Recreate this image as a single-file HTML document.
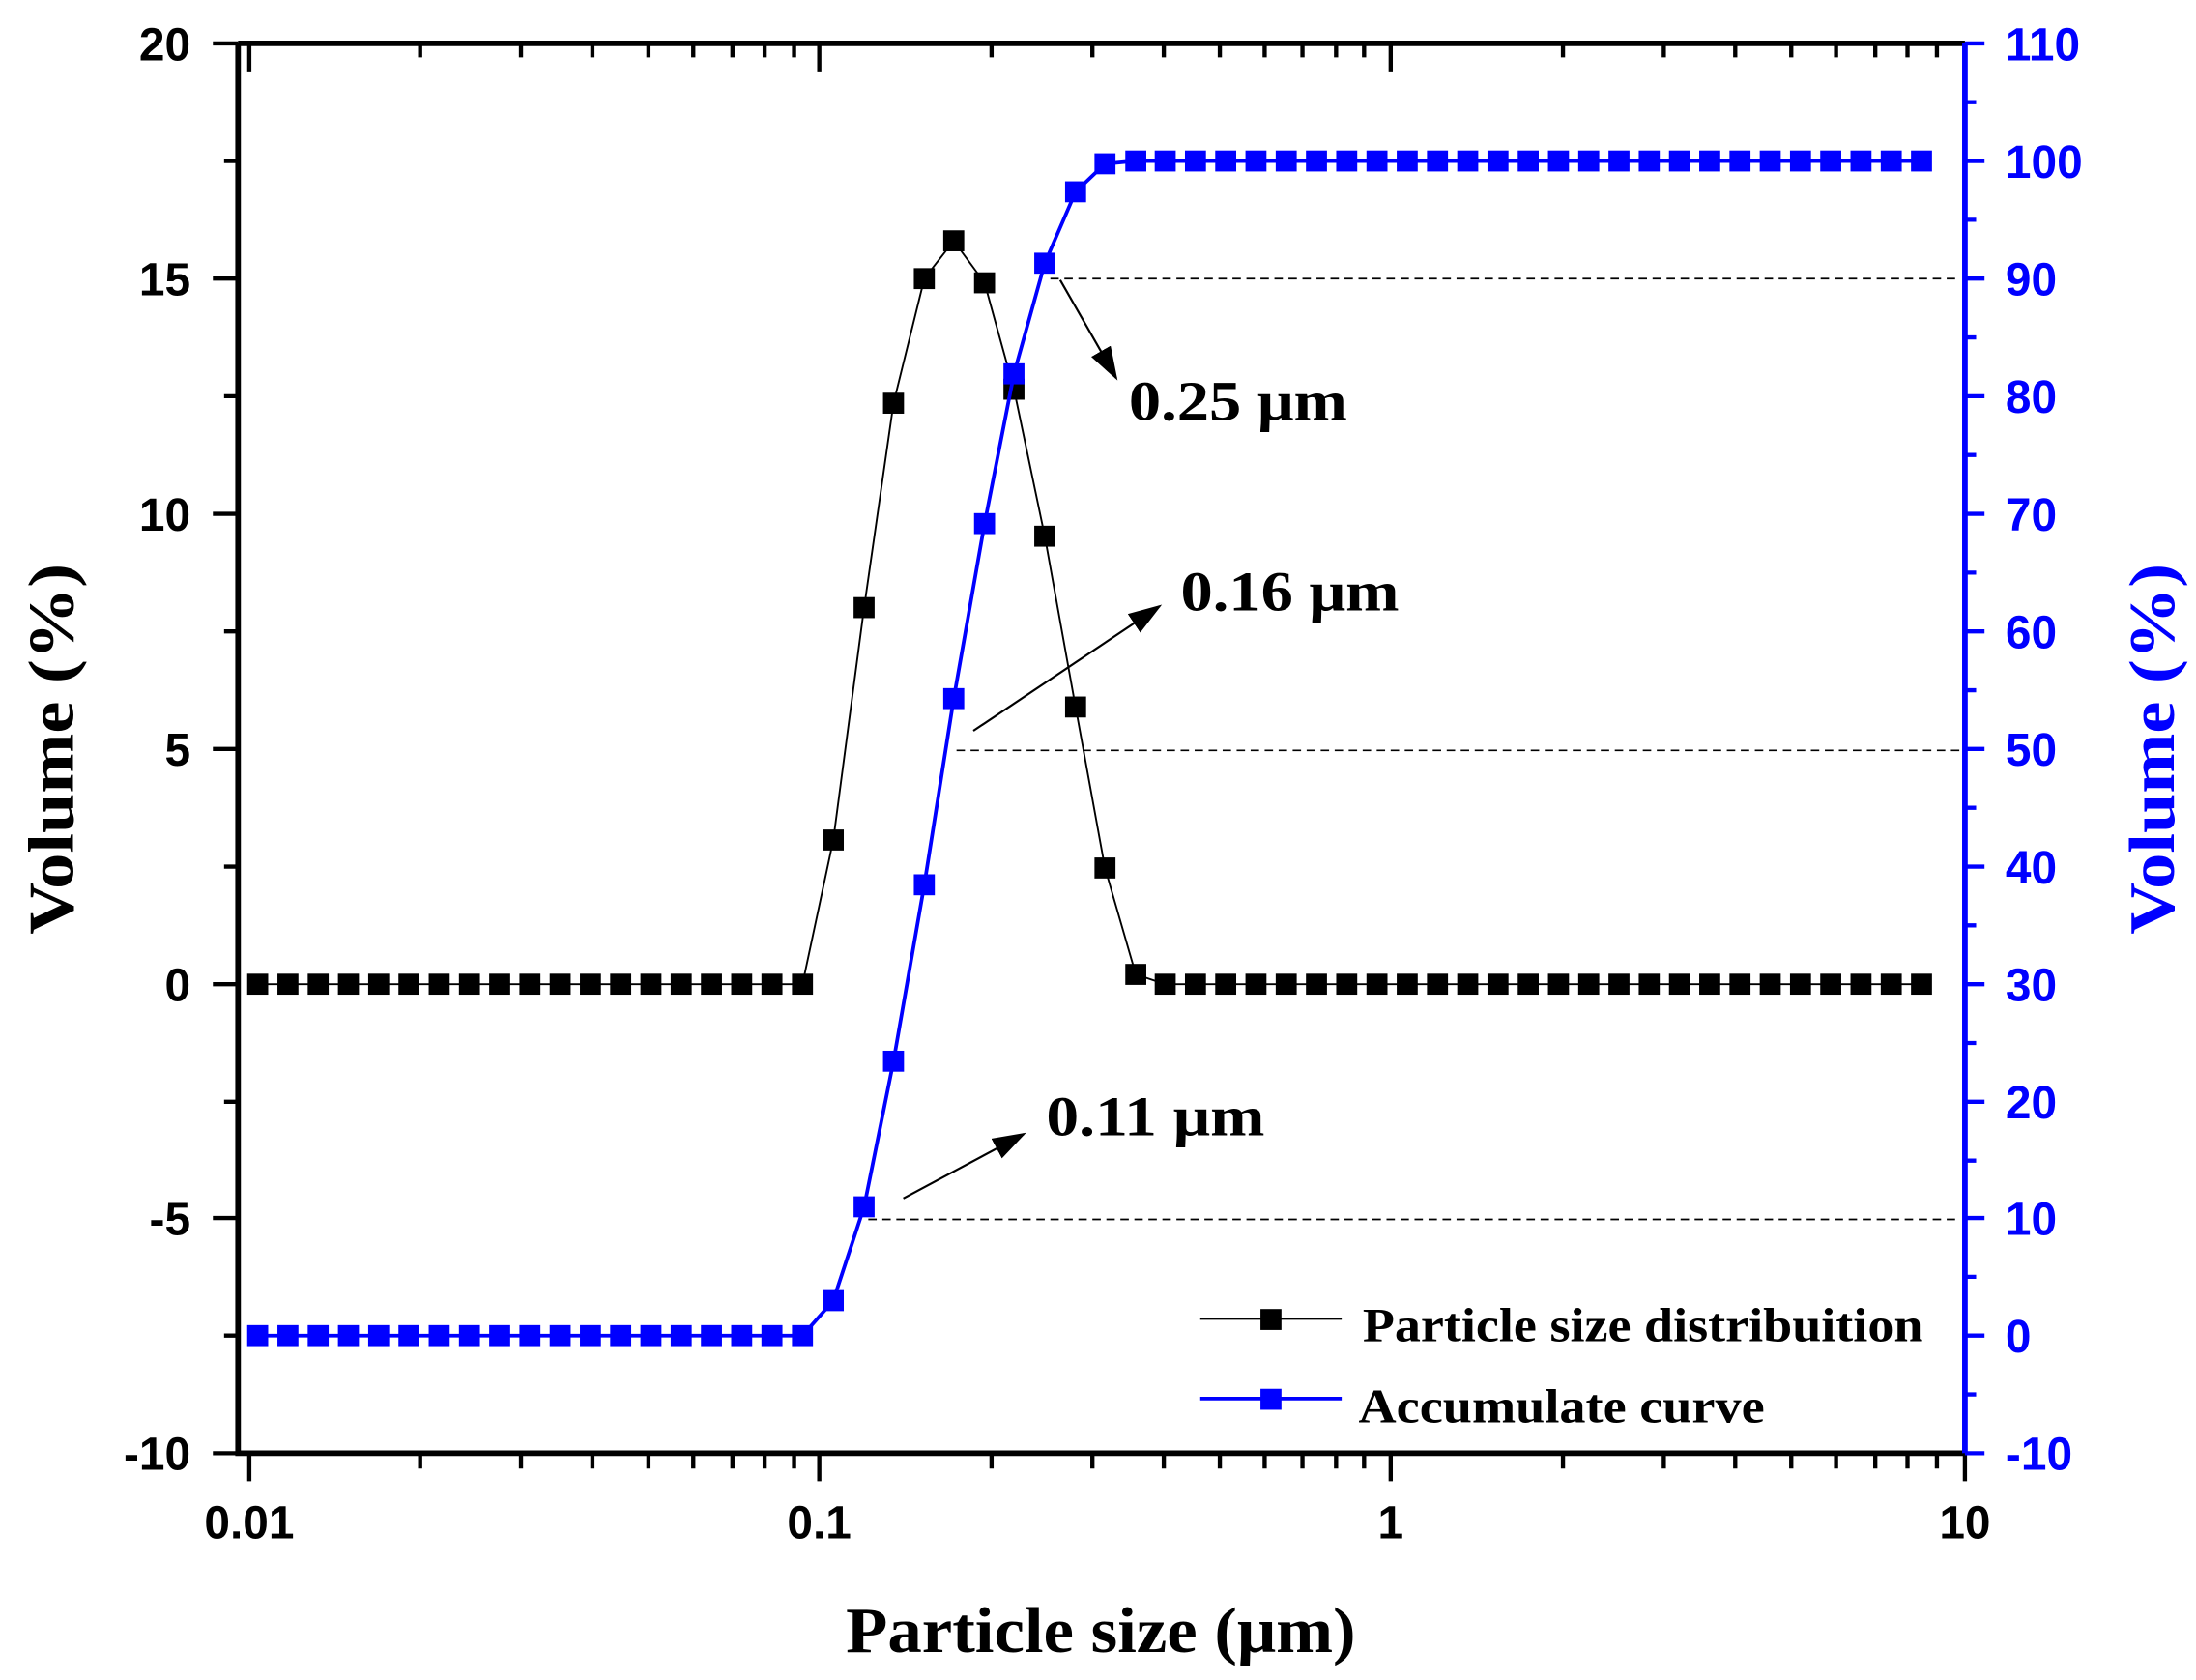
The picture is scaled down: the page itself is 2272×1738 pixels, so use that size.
<!DOCTYPE html>
<html><head><meta charset="utf-8"><style>html,body{margin:0;padding:0;background:#fff}svg{display:block}</style></head>
<body>
<svg width="2272" height="1738" viewBox="0 0 1568 1200" preserveAspectRatio="none" xmlns="http://www.w3.org/2000/svg">
<defs>
<marker id="mk" markerUnits="userSpaceOnUse" markerWidth="16" markerHeight="16" refX="8" refY="8" viewBox="0 0 16 16"><rect x="0.5" y="0.5" width="15" height="15" fill="#000"/></marker>
<marker id="mb" markerUnits="userSpaceOnUse" markerWidth="16" markerHeight="16" refX="8" refY="8" viewBox="0 0 16 16"><rect x="0.5" y="0.5" width="15" height="15" fill="#0000ff"/></marker>
<marker id="ar" markerUnits="userSpaceOnUse" markerWidth="24" markerHeight="16" refX="22" refY="8" orient="auto" viewBox="0 0 24 16"><path d="M0,0 L24,8 L0,16 z" fill="#000"/></marker>
</defs>
<g font-family="Liberation Sans, Arial, sans-serif" font-weight="bold" font-size="33">
<path d="M170,31 H1403 M170,31 V1038 H1403" stroke="#000" stroke-width="4" fill="none"/>
<line x1="1403" y1="31" x2="1403" y2="1038" stroke="#0000ff" stroke-width="4"/>
<g stroke="#000" stroke-width="3">
<path d="M152,31H170M152,199H170M152,367H170M152,535H170M152,703H170M152,870H170M152,1038H170"/>
<path d="M160,115H170M160,283H170M160,451H170M160,619H170M160,787H170M160,954H170"/>
<path d="M178,1038V1058M585,1038V1058M993,1038V1058M1403,1038V1058"/>
<path d="M300,1038V1049M372,1038V1049M423,1038V1049M463,1038V1049M495,1038V1049M523,1038V1049M546,1038V1049M567,1038V1049
M708,1038V1049M780,1038V1049M831,1038V1049M871,1038V1049M903,1038V1049M930,1038V1049M954,1038V1049M974,1038V1049
M1116,1038V1049M1188,1038V1049M1239,1038V1049M1279,1038V1049M1311,1038V1049M1339,1038V1049M1362,1038V1049M1383,1038V1049"/>
<path d="M178,31V51M585,31V51M993,31V51"/>
<path d="M300,31V41M372,31V41M423,31V41M463,31V41M495,31V41M523,31V41M546,31V41M567,31V41
M708,31V41M780,31V41M831,31V41M871,31V41M903,31V41M930,31V41M954,31V41M974,31V41
M1116,31V41M1188,31V41M1239,31V41M1279,31V41M1311,31V41M1339,31V41M1362,31V41M1383,31V41"/>
</g>
<g stroke="#0000ff" stroke-width="3">
<path d="M1403,31H1417M1403,115H1417M1403,199H1417M1403,283H1417M1403,367H1417M1403,451H1417M1403,535H1417M1403,619H1417M1403,703H1417M1403,787H1417M1403,870H1417M1403,954H1417M1403,1038H1417"/>
<path d="M1403,73H1411M1403,157H1411M1403,241H1411M1403,325H1411M1403,409H1411M1403,493H1411M1403,577H1411M1403,661H1411M1403,745H1411M1403,829H1411M1403,912H1411M1403,996H1411"/>
</g>
<g text-anchor="end" fill="#000">
<text x="136" y="43">20</text><text x="136" y="211">15</text><text x="136" y="379">10</text>
<text x="136" y="547">5</text><text x="136" y="715">0</text><text x="136" y="882">-5</text><text x="136" y="1050">-10</text>
</g>
<g text-anchor="middle" fill="#000">
<text x="178" y="1099">0.01</text><text x="585" y="1099">0.1</text><text x="993" y="1099">1</text><text x="1403" y="1099">10</text>
</g>
<g fill="#0000ff">
<text x="1432" y="43">110</text><text x="1432" y="127">100</text><text x="1432" y="211">90</text><text x="1432" y="295">80</text>
<text x="1432" y="379">70</text><text x="1432" y="463">60</text><text x="1432" y="547">50</text><text x="1432" y="631">40</text>
<text x="1432" y="715">30</text><text x="1432" y="799">20</text><text x="1432" y="882">10</text><text x="1432" y="966">0</text>
<text x="1432" y="1050">-10</text>
</g>
</g>
<g stroke="#000" stroke-width="1.2" stroke-dasharray="6,4">
<line x1="750" y1="199" x2="1400" y2="199"/>
<line x1="683" y1="536" x2="1400" y2="536"/>
<line x1="620" y1="871" x2="1400" y2="871"/>
</g>
<polyline fill="none" stroke="#000" stroke-width="1.3" marker-start="url(#mk)" marker-mid="url(#mk)" marker-end="url(#mk)"
points="184,703 205.6,703 227.2,703 248.8,703 270.4,703 292,703 313.6,703 335.2,703 356.8,703 378.4,703 400,703 421.6,703 443.2,703 464.8,703 486.4,703 508,703 529.6,703 551.2,703 573,703 595,600 617,434 638,288 660,199 681,172 703,202 724,278 746,383 768,505 789,620 811,696 832,703 853.6,703 875.2,703 896.8,703 918.4,703 940,703 961.6,703 983.2,703 1004.8,703 1026.4,703 1048,703 1069.6,703 1091.2,703 1112.8,703 1134.4,703 1156,703 1177.6,703 1199.2,703 1220.8,703 1242.4,703 1264,703 1285.6,703 1307.2,703 1328.8,703 1350.4,703 1372,703"/>
<polyline fill="none" stroke="#0000ff" stroke-width="2.6" marker-start="url(#mb)" marker-mid="url(#mb)" marker-end="url(#mb)"
points="184,954 205.6,954 227.2,954 248.8,954 270.4,954 292,954 313.6,954 335.2,954 356.8,954 378.4,954 400,954 421.6,954 443.2,954 464.8,954 486.4,954 508,954 529.6,954 551.2,954 573,954 595,929 617,862 638,758 660,632 681,499 703,374 724,267 746,188 768,137 789,117 811,115 832,115 853.6,115 875.2,115 896.8,115 918.4,115 940,115 961.6,115 983.2,115 1004.8,115 1026.4,115 1048,115 1069.6,115 1091.2,115 1112.8,115 1134.4,115 1156,115 1177.6,115 1199.2,115 1220.8,115 1242.4,115 1264,115 1285.6,115 1307.2,115 1328.8,115 1350.4,115 1372,115"/>
<g stroke="#000" stroke-width="1.5" fill="none">
<line x1="757" y1="200" x2="797" y2="270" marker-end="url(#ar)"/>
<line x1="695" y1="522" x2="828" y2="433" marker-end="url(#ar)"/>
<line x1="645" y1="856" x2="731" y2="810" marker-end="url(#ar)"/>
</g>
<g font-family="Liberation Serif, Times New Roman, serif" font-weight="bold" fill="#000">
<text x="806" y="300" font-size="40" textLength="156" lengthAdjust="spacingAndGlyphs">0.25 μm</text>
<text x="843" y="436" font-size="40" textLength="156" lengthAdjust="spacingAndGlyphs">0.16 μm</text>
<text x="747" y="811" font-size="40" textLength="156" lengthAdjust="spacingAndGlyphs">0.11 μm</text>
<line x1="857" y1="942" x2="958" y2="942" stroke="#000" stroke-width="1.5"/>
<rect x="900" y="935" width="15" height="15" fill="#000"/>
<text x="973" y="958" font-size="34" textLength="400" lengthAdjust="spacingAndGlyphs">Particle size distribuition</text>
<line x1="857" y1="999" x2="958" y2="999" stroke="#0000ff" stroke-width="2.6"/>
<rect x="900" y="992" width="15" height="15" fill="#0000ff"/>
<text x="970" y="1016" font-size="34" textLength="290" lengthAdjust="spacingAndGlyphs">Accumulate curve</text>
<text x="786" y="1180" font-size="46" text-anchor="middle" textLength="364" lengthAdjust="spacingAndGlyphs">Particle size (μm)</text>
<text transform="translate(52,535) rotate(-90)" font-size="46" text-anchor="middle" textLength="265" lengthAdjust="spacingAndGlyphs">Volume (%)</text>
<text transform="translate(1552,535) rotate(-90)" font-size="46" text-anchor="middle" fill="#0000ff" textLength="265" lengthAdjust="spacingAndGlyphs">Volume (%)</text>
</g>
</svg>
</body></html>
